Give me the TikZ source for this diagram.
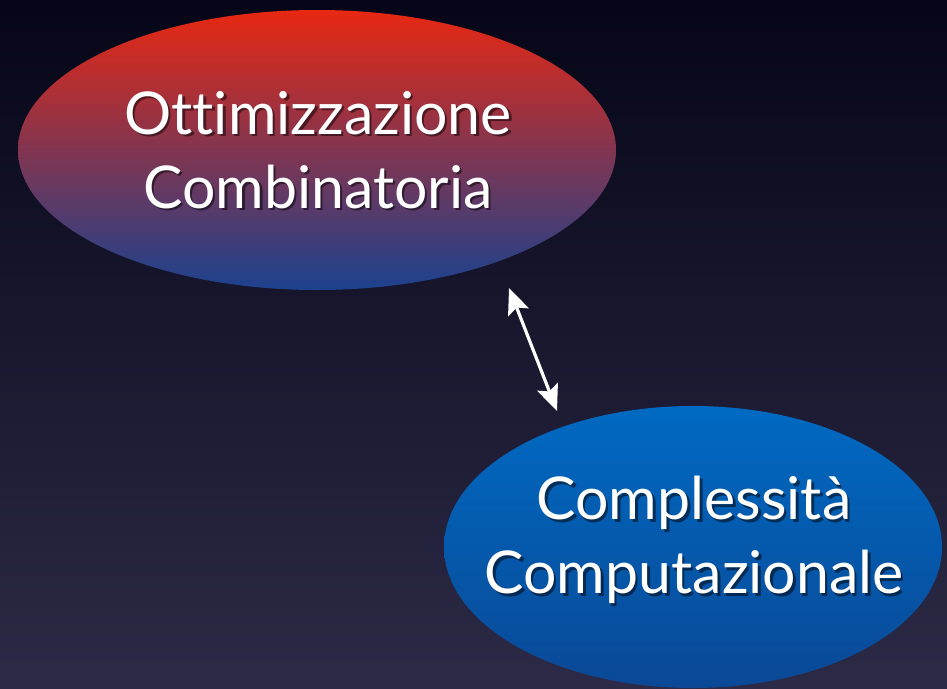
\documentclass[tikz,border=0pt]{standalone}
\usepackage{fontspec}
\setmainfont[Ligatures={NoCommon,NoRare,NoContextual}]{Lato}
\usetikzlibrary{shapes.geometric,arrows.meta}
\definecolor{bgtop}{RGB}{6,6,24}
\definecolor{bgbot}{RGB}{44,42,70}
\definecolor{redtop}{RGB}{232,40,18}
\definecolor{redbot}{RGB}{28,66,142}
\definecolor{bluetop}{RGB}{0,106,194}
\definecolor{bluebot}{RGB}{10,72,150}
\tikzset{
  bubble/.style={ellipse, inner sep=0pt, draw=none},
  label text/.style={text=white, align=center, font=\fontsize{59}{74}\selectfont},
  label shade/.style={label text, text=black, text opacity=0.5},
  link/.style={draw=white, line width=3.2pt, {Stealth[length=26pt,width=22pt,inset=5pt]}-{Stealth[length=26pt,width=22pt,inset=5pt]}}
}
\begin{document}
\begin{tikzpicture}[x=1pt,y=-1pt]
  % backdrop
  \shade[top color=bgtop, bottom color=bgbot] (0,0) rectangle (947,688);
  \useasboundingbox (0,0) rectangle (947,688);

  % upper ellipse
  \node[bubble, minimum width=598pt, minimum height=280pt,
        top color=redtop, bottom color=redbot] (opt) at (317,150) {};
  \node[label shade] (opts) at (320.5,152.5) {Ottimizzazione\\Combinatoria};
  \node[label text] (optt) at (318,150) {Ottimizzazione\\Combinatoria};

  % lower ellipse
  \node[bubble, minimum width=498pt, minimum height=282pt,
        top color=bluetop, bottom color=bluebot] (comp) at (693,547) {};
  \node[label shade] (comps) at (696.5,542.5) {Complessità\\Computazionale};
  \node[label text] (compt) at (694,540) {Complessità\\Computazionale};

  % double arrow between them
  \coordinate (a1) at (509,288);
  \coordinate (a2) at (557,411);
  \draw[link] (a1) -- (a2);
\end{tikzpicture}
\end{document}
